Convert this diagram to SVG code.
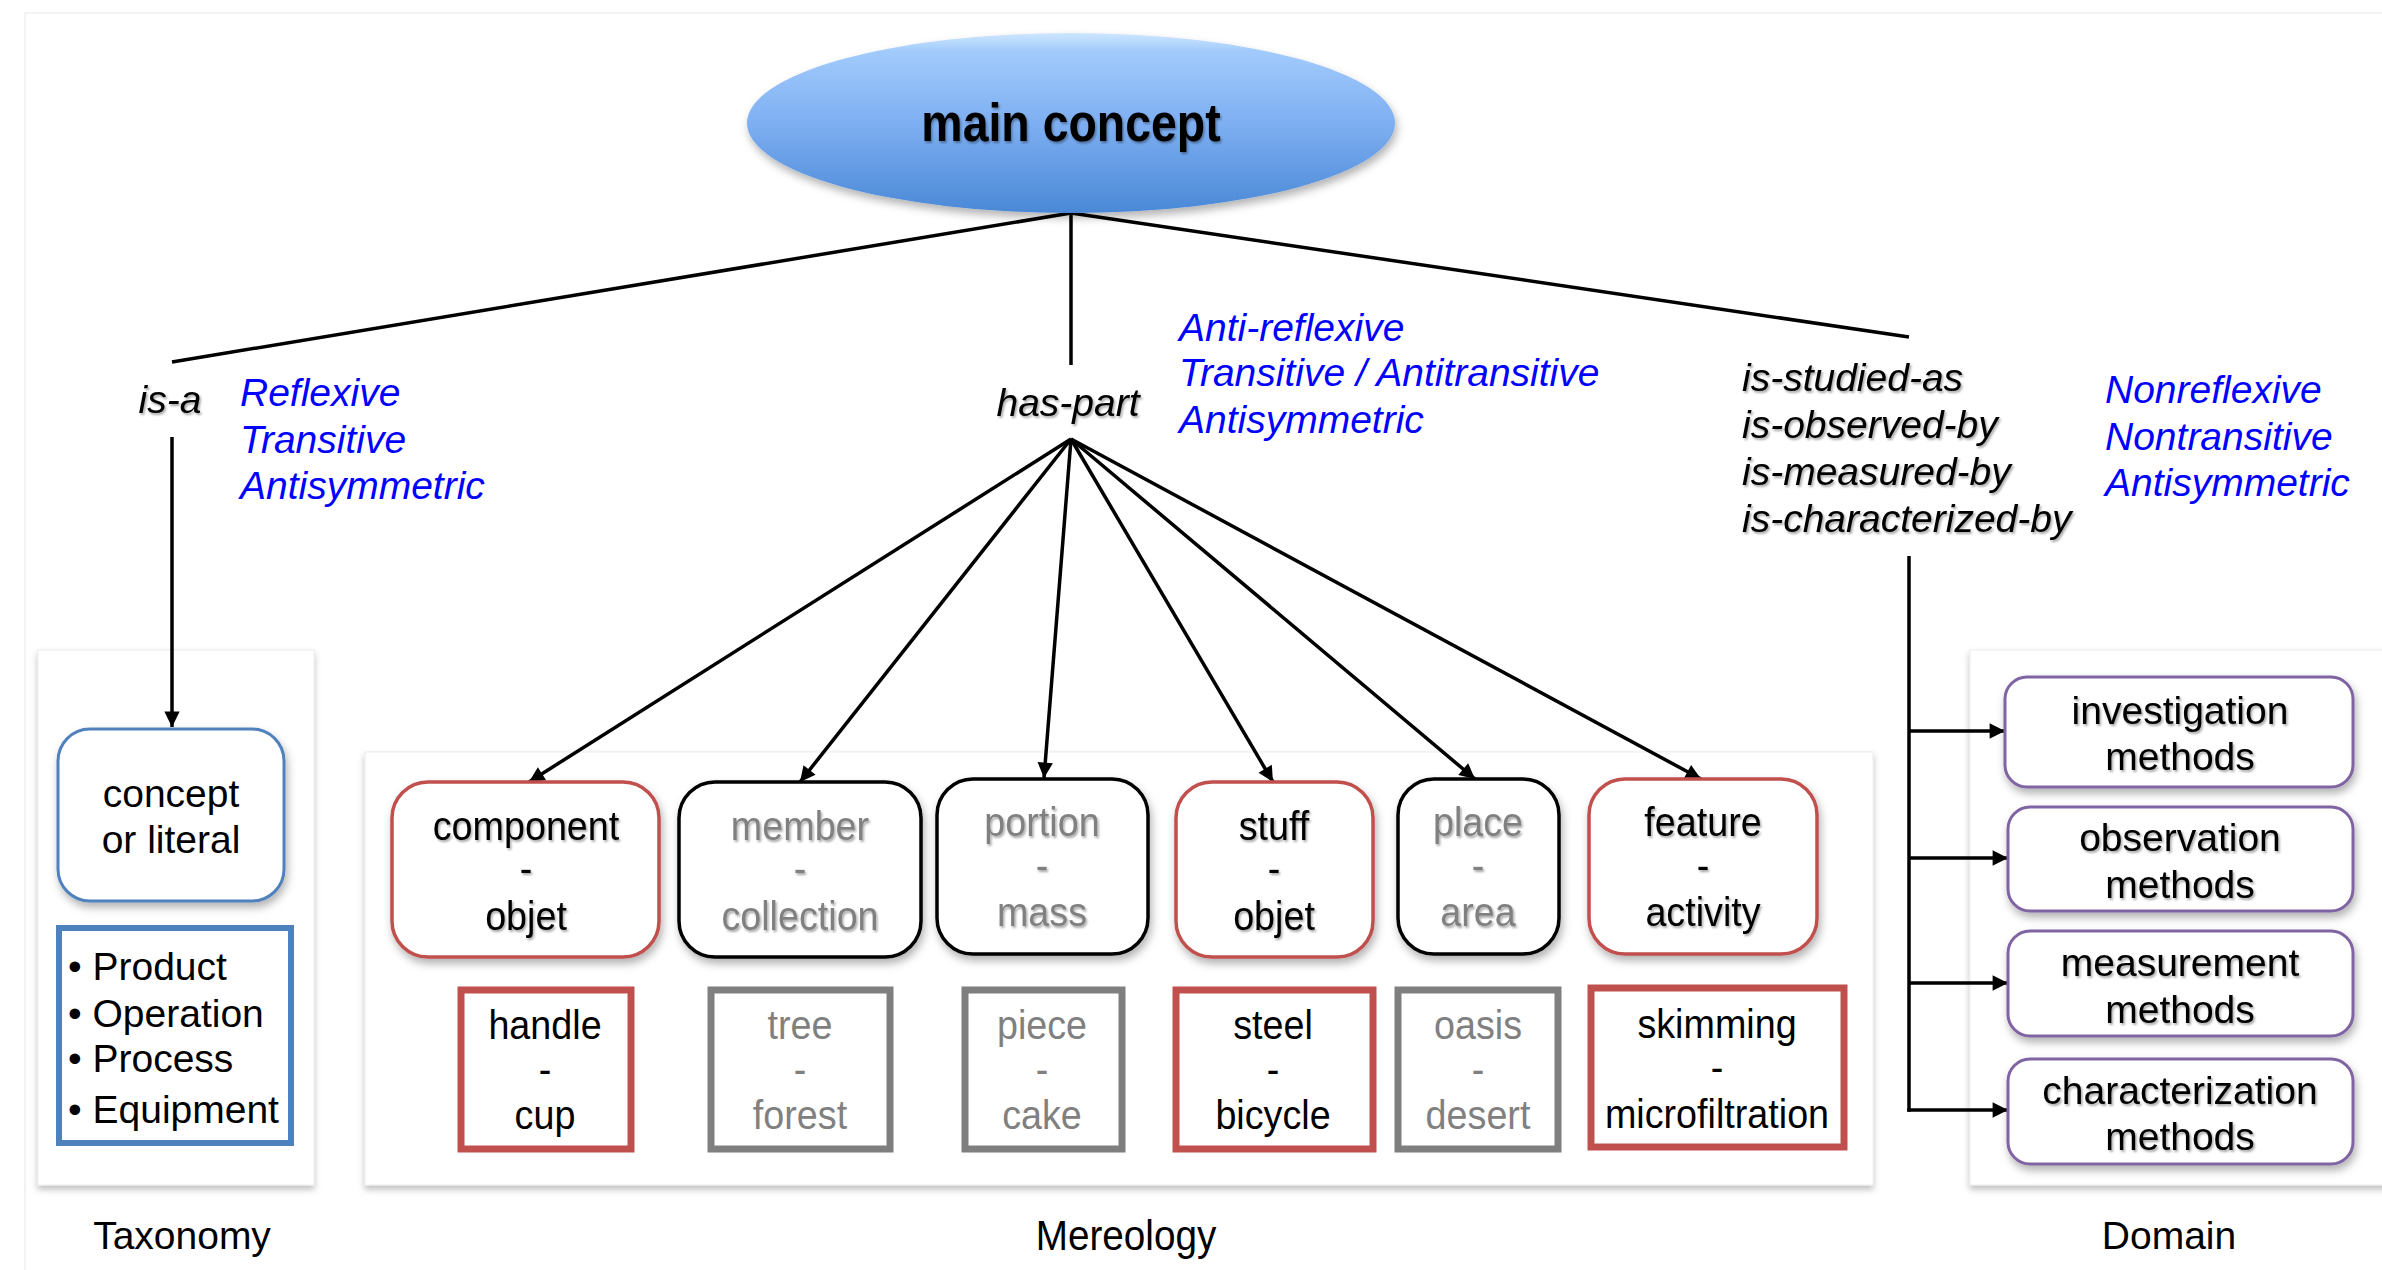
<svg xmlns="http://www.w3.org/2000/svg" width="2382" height="1270" viewBox="0 0 2382 1270">
<defs>
  <linearGradient id="ellGrad" x1="0" y1="0" x2="0" y2="1">
    <stop offset="0" stop-color="#cfe6fe"/>
    <stop offset="0.1" stop-color="#a2cbfc"/>
    <stop offset="0.5" stop-color="#7eaff2"/>
    <stop offset="1" stop-color="#4a88d6"/>
  </linearGradient>
  <filter id="boxShadow" x="-10%" y="-10%" width="130%" height="130%">
    <feDropShadow dx="2" dy="5" stdDeviation="4" flood-color="#000" flood-opacity="0.3"/>
  </filter>
  <filter id="panelShadow" x="-5%" y="-5%" width="110%" height="110%">
    <feDropShadow dx="0" dy="4" stdDeviation="3" flood-color="#000" flood-opacity="0.25"/>
  </filter>
  <filter id="textShadow" x="-5%" y="-20%" width="110%" height="150%">
    <feDropShadow dx="1.5" dy="2" stdDeviation="1" flood-color="#000" flood-opacity="0.35"/>
  </filter>
  <marker id="arrow" viewBox="0 0 10 10" refX="10" refY="5" markerWidth="5.5" markerHeight="4.4" orient="auto">
    <path d="M0,0 L10,5 L0,10 z" fill="#000"/>
  </marker>
  <style>
    text { font-family: "Liberation Sans", Arial, sans-serif; font-size: 39px; }
    .c { text-anchor: middle; }
    .n { font-size: 41px; text-anchor: middle; }
    .big { font-size: 54px; font-weight: bold; text-anchor: middle; }
    .mer { font-size: 43px; text-anchor: middle; }
    .it { font-style: italic; }
    .blue { fill: #0000ff; font-style: italic; }
    .blk { fill: #000; }
    .gry { fill: #808080; }
    .panel { fill: #fff; stroke: #ececec; stroke-width: 1; filter: url(#panelShadow); }
    .rbox { fill: #fff; stroke-width: 3.5; filter: url(#boxShadow); }
    .sbox { fill: #fff; stroke-width: 7; }
    .red { stroke: #c0504d; }
    .black { stroke: #000; }
    .gray { stroke: #7f7f7f; }
    .purple { fill: #fff; stroke: #8064a2; stroke-width: 3; filter: url(#boxShadow); }
    .conn { fill: none; stroke: #000; stroke-width: 3.5; }
    .sh { filter: url(#textShadow); }
  </style>
</defs>
<rect x="0" y="0" width="2382" height="1270" fill="#fff"/>
<rect x="25" y="13" width="2380" height="1270" fill="none" stroke="#f3f3f3" stroke-width="2"/>

<!-- panels -->
<g id="panel-taxonomy"><rect class="panel" x="38" y="650" width="276" height="535"/></g>
<g id="panel-mereology"><rect class="panel" x="365" y="752" width="1508" height="433"/></g>
<g id="panel-domain"><rect class="panel" x="1970" y="650" width="420" height="535"/></g>

<!-- connectors -->
<g id="connectors">
  <line class="conn" x1="1071" y1="213" x2="172" y2="362"/>
  <line class="conn" x1="1071" y1="213" x2="1071" y2="365"/>
  <line class="conn" x1="1071" y1="213" x2="1909" y2="337"/>
  <line class="conn" x1="172" y1="437" x2="172" y2="727" marker-end="url(#arrow)"/>
  <line class="conn" x1="1071" y1="439" x2="529" y2="782" marker-end="url(#arrow)"/>
  <line class="conn" x1="1071" y1="439" x2="800" y2="782" marker-end="url(#arrow)"/>
  <line class="conn" x1="1071" y1="439" x2="1044" y2="778" marker-end="url(#arrow)"/>
  <line class="conn" x1="1071" y1="439" x2="1273" y2="782" marker-end="url(#arrow)"/>
  <line class="conn" x1="1071" y1="439" x2="1475" y2="779" marker-end="url(#arrow)"/>
  <line class="conn" x1="1071" y1="439" x2="1701" y2="779" marker-end="url(#arrow)"/>
  <line class="conn" x1="1909" y1="556" x2="1909" y2="1111.75"/>
  <line class="conn" x1="1909" y1="731" x2="2005" y2="731" marker-end="url(#arrow)"/>
  <line class="conn" x1="1909" y1="858" x2="2008" y2="858" marker-end="url(#arrow)"/>
  <line class="conn" x1="1909" y1="983" x2="2008" y2="983" marker-end="url(#arrow)"/>
  <line class="conn" x1="1907.25" y1="1110" x2="2008" y2="1110" marker-end="url(#arrow)"/>
</g>

<!-- main concept -->
<g id="main-concept">
  <ellipse cx="1071" cy="123" rx="324" ry="90" fill="url(#ellGrad)" filter="url(#boxShadow)"/>
  <g transform="translate(1071 0) scale(0.86 1)">
    <text class="big sh" x="0" y="141">main concept</text>
  </g>
</g>

<!-- relation labels -->
<g id="label-is-a"><text class="c it sh" x="170" y="413">is-a</text></g>
<g id="props-is-a">
  <text class="blue" x="240" y="406">Reflexive</text>
  <text class="blue" x="240" y="453">Transitive</text>
  <text class="blue" x="240" y="499">Antisymmetric</text>
</g>
<g id="label-has-part"><text class="c it sh" x="1068" y="416">has-part</text></g>
<g id="props-has-part">
  <text class="blue" x="1179" y="341">Anti-reflexive</text>
  <text class="blue" x="1179" y="386">Transitive / Antitransitive</text>
  <text class="blue" x="1179" y="433">Antisymmetric</text>
</g>
<g id="label-domain-rel" class="sh">
  <text class="it" x="1742" y="391">is-studied-as</text>
  <text class="it" x="1742" y="438">is-observed-by</text>
  <text class="it" x="1742" y="485">is-measured-by</text>
  <text class="it" x="1742" y="532">is-characterized-by</text>
</g>
<g id="props-domain">
  <text class="blue" x="2105" y="403">Nonreflexive</text>
  <text class="blue" x="2105" y="450">Nontransitive</text>
  <text class="blue" x="2105" y="496">Antisymmetric</text>
</g>

<!-- taxonomy -->
<g id="node-concept">
  <rect x="58" y="729" width="226" height="172" rx="32" fill="#fff" stroke="#4f81bd" stroke-width="3" filter="url(#boxShadow)"/>
  <text class="c" x="171" y="807">concept</text>
  <text class="c" x="171" y="853">or literal</text>
</g>
<g id="node-bullets">
  <rect x="59" y="928" width="232" height="215" fill="#fff" stroke="#4f81bd" stroke-width="6"/>
  <text x="68" y="980">• Product</text>
  <text x="68" y="1027">• Operation</text>
  <text x="68" y="1072">• Process</text>
  <text x="68" y="1123">• Equipment</text>
</g>

<!-- mereology top row -->
<g id="node-component">
  <rect class="rbox red" x="392" y="782" width="267" height="175" rx="36"/>
  <g transform="translate(526 0) scale(0.92 1)" class="sh">
    <text class="n blk" x="0" y="840">component</text>
    <text class="n blk" x="0" y="882">-</text>
    <text class="n blk" x="0" y="930">objet</text>
  </g>
</g>
<g id="node-member">
  <rect class="rbox black" x="679" y="782" width="242" height="175" rx="36"/>
  <g transform="translate(800 0) scale(0.92 1)" class="sh">
    <text class="n gry" x="0" y="840">member</text>
    <text class="n gry" x="0" y="882">-</text>
    <text class="n gry" x="0" y="930">collection</text>
  </g>
</g>
<g id="node-portion">
  <rect class="rbox black" x="937" y="779" width="211" height="175" rx="36"/>
  <g transform="translate(1042 0) scale(0.92 1)" class="sh">
    <text class="n gry" x="0" y="836">portion</text>
    <text class="n gry" x="0" y="879">-</text>
    <text class="n gry" x="0" y="926">mass</text>
  </g>
</g>
<g id="node-stuff">
  <rect class="rbox red" x="1176" y="782" width="197" height="175" rx="36"/>
  <g transform="translate(1274 0) scale(0.92 1)" class="sh">
    <text class="n blk" x="0" y="840">stuff</text>
    <text class="n blk" x="0" y="882">-</text>
    <text class="n blk" x="0" y="930">objet</text>
  </g>
</g>
<g id="node-place">
  <rect class="rbox black" x="1398" y="779" width="161" height="175" rx="36"/>
  <g transform="translate(1478 0) scale(0.92 1)" class="sh">
    <text class="n gry" x="0" y="836">place</text>
    <text class="n gry" x="0" y="879">-</text>
    <text class="n gry" x="0" y="926">area</text>
  </g>
</g>
<g id="node-feature">
  <rect class="rbox red" x="1589" y="779" width="228" height="175" rx="36"/>
  <g transform="translate(1703 0) scale(0.92 1)" class="sh">
    <text class="n blk" x="0" y="836">feature</text>
    <text class="n blk" x="0" y="879">-</text>
    <text class="n blk" x="0" y="926">activity</text>
  </g>
</g>

<!-- mereology bottom row -->
<g id="node-handle">
  <rect class="sbox red" x="461" y="990" width="170" height="159"/>
  <g transform="translate(545 0) scale(0.92 1)">
    <text class="n blk" x="0" y="1039">handle</text>
    <text class="n blk" x="0" y="1083">-</text>
    <text class="n blk" x="0" y="1129">cup</text>
  </g>
</g>
<g id="node-tree">
  <rect class="sbox gray" x="711" y="990" width="179" height="159"/>
  <g transform="translate(800 0) scale(0.92 1)">
    <text class="n gry" x="0" y="1039">tree</text>
    <text class="n gry" x="0" y="1083">-</text>
    <text class="n gry" x="0" y="1129">forest</text>
  </g>
</g>
<g id="node-piece">
  <rect class="sbox gray" x="965" y="990" width="157" height="159"/>
  <g transform="translate(1042 0) scale(0.92 1)">
    <text class="n gry" x="0" y="1039">piece</text>
    <text class="n gry" x="0" y="1083">-</text>
    <text class="n gry" x="0" y="1129">cake</text>
  </g>
</g>
<g id="node-steel">
  <rect class="sbox red" x="1176" y="990" width="197" height="159"/>
  <g transform="translate(1273 0) scale(0.92 1)">
    <text class="n blk" x="0" y="1039">steel</text>
    <text class="n blk" x="0" y="1083">-</text>
    <text class="n blk" x="0" y="1129">bicycle</text>
  </g>
</g>
<g id="node-oasis">
  <rect class="sbox gray" x="1398" y="990" width="160" height="159"/>
  <g transform="translate(1478 0) scale(0.92 1)">
    <text class="n gry" x="0" y="1039">oasis</text>
    <text class="n gry" x="0" y="1083">-</text>
    <text class="n gry" x="0" y="1129">desert</text>
  </g>
</g>
<g id="node-skimming">
  <rect class="sbox red" x="1591" y="988" width="253" height="159"/>
  <g transform="translate(1717 0) scale(0.92 1)">
    <text class="n blk" x="0" y="1038">skimming</text>
    <text class="n blk" x="0" y="1081">-</text>
    <text class="n blk" x="0" y="1128">microfiltration</text>
  </g>
</g>

<!-- domain -->
<g id="node-investigation">
  <rect class="purple" x="2005" y="677" width="348" height="110" rx="22"/>
  <text class="c sh" x="2180" y="724">investigation</text>
  <text class="c sh" x="2180" y="770">methods</text>
</g>
<g id="node-observation">
  <rect class="purple" x="2008" y="807" width="345" height="104" rx="22"/>
  <text class="c sh" x="2180" y="851">observation</text>
  <text class="c sh" x="2180" y="898">methods</text>
</g>
<g id="node-measurement">
  <rect class="purple" x="2008" y="931" width="345" height="105" rx="22"/>
  <text class="c sh" x="2180" y="976">measurement</text>
  <text class="c sh" x="2180" y="1023">methods</text>
</g>
<g id="node-characterization">
  <rect class="purple" x="2008" y="1059" width="345" height="105" rx="22"/>
  <text class="c sh" x="2180" y="1104">characterization</text>
  <text class="c sh" x="2180" y="1150">methods</text>
</g>

<!-- section labels -->
<g id="label-taxonomy"><text class="c" x="182" y="1249">Taxonomy</text></g>
<g id="label-mereology"><g transform="translate(1126 0) scale(0.9 1)"><text class="mer" x="0" y="1250">Mereology</text></g></g>
<g id="label-domain"><text class="c" x="2169" y="1249">Domain</text></g>
</svg>
